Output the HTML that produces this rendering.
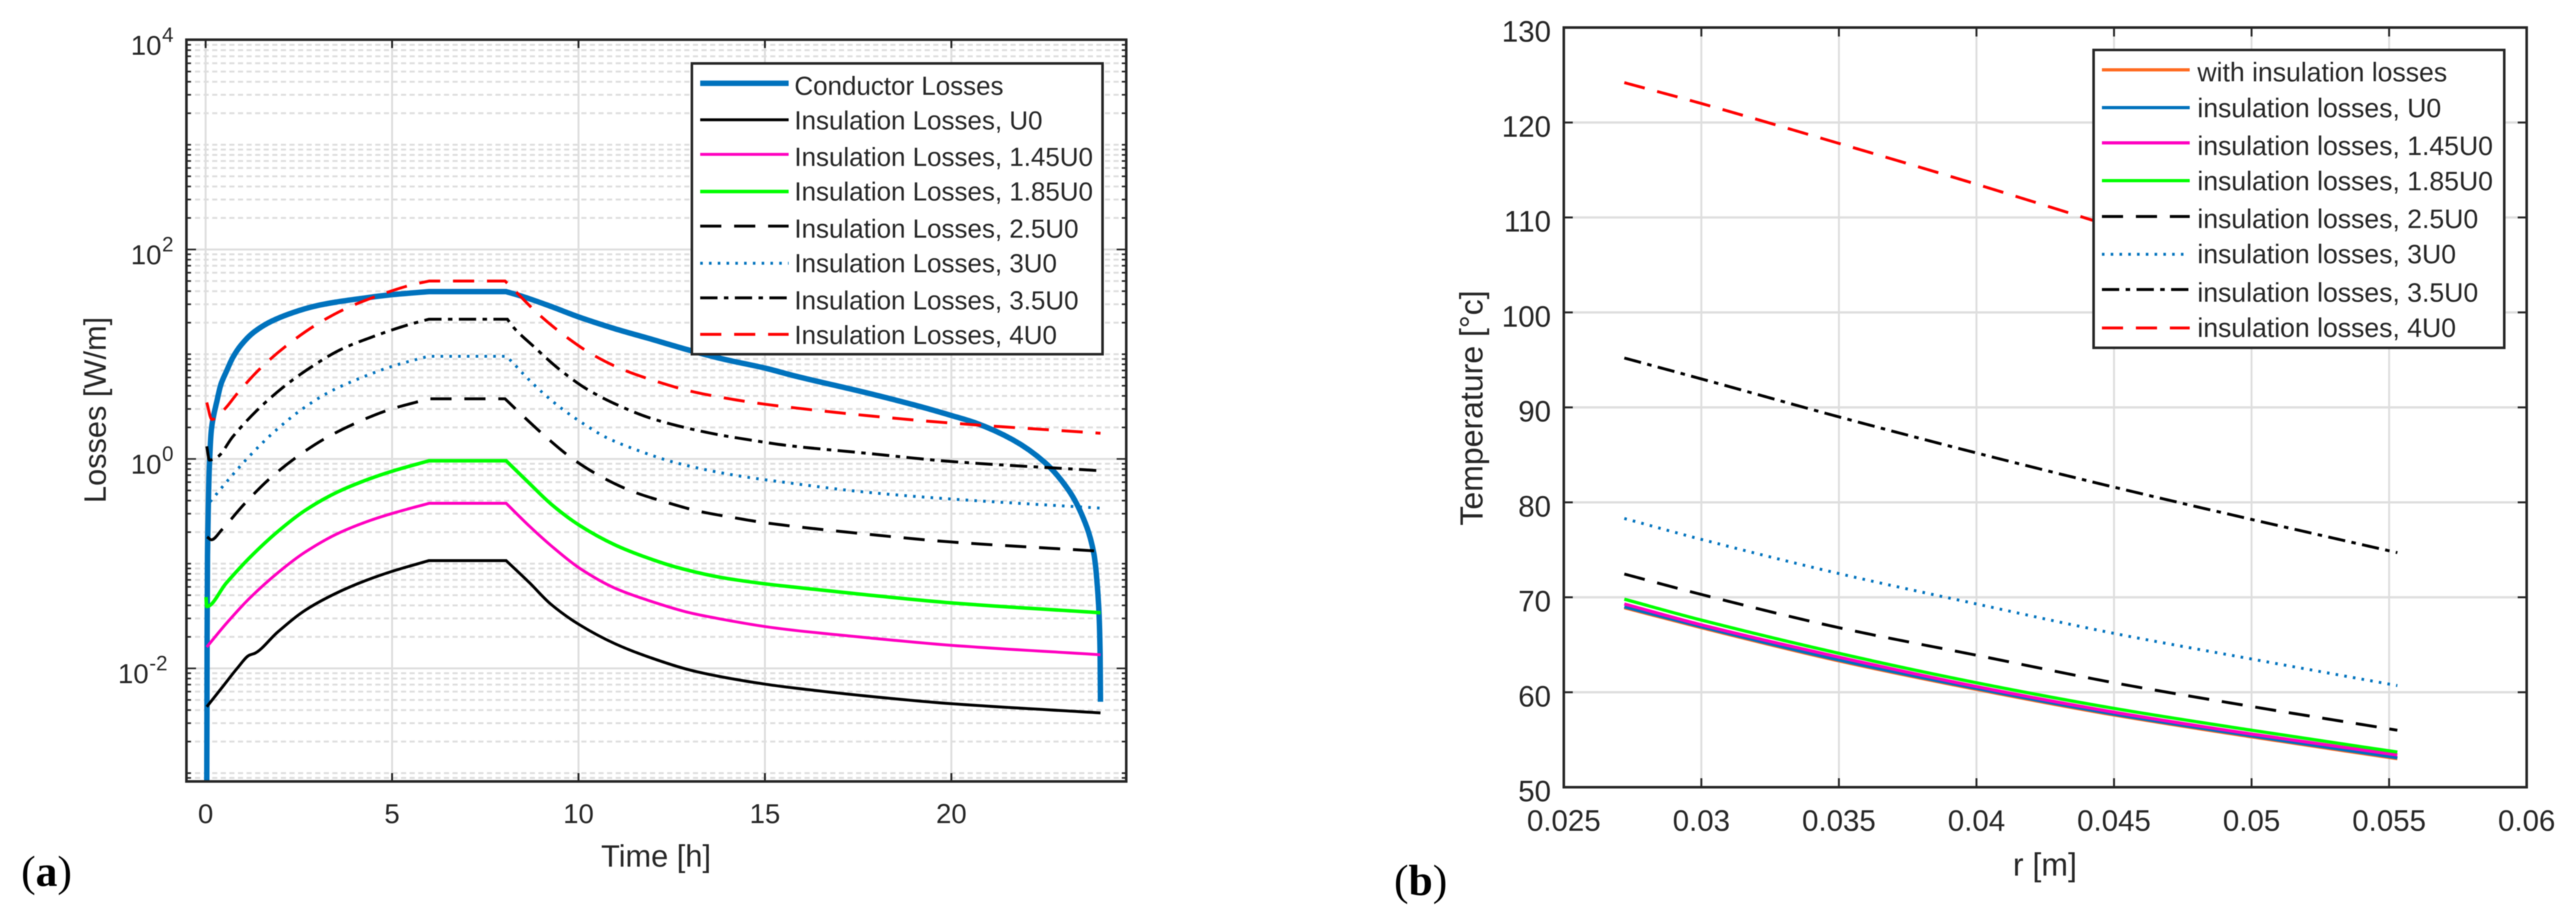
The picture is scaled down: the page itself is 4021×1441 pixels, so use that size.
<!DOCTYPE html>
<html lang="en">
<head>
<meta charset="utf-8">
<title>Losses and temperature charts</title>
<style>
html,body{margin:0;padding:0;background:#fff;width:4021px;height:1441px;overflow:hidden}
svg{display:block;filter:blur(.8px)}
text{font-family:"Liberation Sans",sans-serif;fill:#262626}
.panel-letter{font-family:"Liberation Serif",serif;font-size:68px;fill:#000}
</style>
</head>
<body>
<svg id="figure" xmlns="http://www.w3.org/2000/svg" width="4021" height="1441" viewBox="0 0 4021 1441">
  <defs>
    <clipPath id="clip-a"><rect x="291" y="62" width="1467" height="1158"/></clipPath>
    <clipPath id="clip-b"><rect x="2441" y="43" width="1503" height="1186"/></clipPath>
  </defs>
  <g id="chart-a"></g>
  <g id="chart-b"></g>
  <text class="panel-letter" x="33" y="1383">(<tspan font-weight="bold">a</tspan>)</text>
  <text class="panel-letter" x="2176" y="1397">(<tspan font-weight="bold">b</tspan>)</text>
  <text font-size="48" text-anchor="middle" transform="translate(165 640) rotate(-90)">Losses [W/m]</text>
  <text font-size="48" text-anchor="middle" x="1024" y="1353">Time [h]</text>
  <text font-size="50" text-anchor="middle" transform="translate(2314 637) rotate(-90)">Temperature [°c]</text>
  <text font-size="50" text-anchor="middle" x="3192" y="1367">r [m]</text>
</svg>
<script>
/* ---------- Panel (a) data ---------- */
const timeTicks = [0, 5, 10, 15, 20];
const lossTickExponents = [-2, 0, 2, 4];
const lossGridExponents = [-4, -3, -2, -1, 0, 1, 2, 3];

const conductorTime = [0.03,0.035,0.04,0.05,0.1,0.155,0.2,0.3,0.41,0.556,0.727,0.956,1.3,1.76,2.33,2.9,3.48,4.16,5.02,5.99,8.06,8.52,9.26,10.02,10.98,11.84,12.98,13.84,15.03,15.79,17.7,19,20,20.66,21.64,22.5,23.15,23.55,23.82,23.95,23.99,24];
const conductorLoss = [0.0008,0.0035,0.02,0.118,0.85,1.92,2.44,3.54,5.16,6.84,9.28,12.3,16.3,20.6,24.9,28.6,31.4,34,37.1,39.6,39.6,35.4,28.6,22.6,17.5,14.3,10.9,9.06,7.33,6.22,4.3,3.28,2.6,2.2,1.53,0.93,0.5,0.266,0.126,0.0403,0.0138,0.0048];

const u0Time = [0.03,0.44,0.87,1.16,1.33,1.93,2.67,3.48,4.28,5.02,5.99,8.06,8.69,9.26,10.02,10.98,11.84,12.98,13.84,15.03,15.79,17.7,20,24];
const u0Loss = [0.0043,0.00657,0.01026,0.0133,0.014,0.0222,0.0359,0.0518,0.0687,0.0849,0.107,0.107,0.0655,0.041,0.0262,0.0172,0.013,0.00966,0.0083,0.00705,0.0065,0.00546,0.0046,0.00376];

const u145Time = [0.03,0.556,1.19,1.99,2.67,3.53,4.39,5.02,5.99,8.06,8.69,9.26,10.02,10.98,11.84,12.98,13.84,15.03,15.79,17.7,20,24];
const u145Loss = [0.016,0.0269,0.0472,0.0849,0.129,0.193,0.257,0.303,0.377,0.377,0.227,0.149,0.091,0.0583,0.045,0.034,0.0295,0.025,0.0231,0.0197,0.0166,0.0135];

const u185Time = [0.01,0.03,0.556,1.19,1.93,2.67,3.53,4.39,5.02,5.99,8.06,8.63,9.26,10.02,10.98,11.84,12.7,13.84,15.03,15.79,17.7,20,24];
const u185Loss = [0.048,0.039,0.0655,0.115,0.202,0.323,0.482,0.645,0.767,0.96,0.96,0.61,0.372,0.233,0.151,0.114,0.091,0.0737,0.064,0.0597,0.0505,0.0422,0.034];

const u25Time = [0.04,0.155,0.43,1.04,1.7,2.42,3.22,4.05,4.91,5.99,8.03,8.43,9.12,9.83,10.61,11.47,12.35,13.24,14.16,15.07,17.7,20,24];
const u25Loss = [0.18,0.169,0.21,0.372,0.64,1.03,1.58,2.22,2.94,3.75,3.75,2.74,1.63,1.01,0.676,0.486,0.386,0.316,0.275,0.244,0.192,0.161,0.1315];

const u3Time = [0.12,0.67,1.16,1.82,2.56,3.33,4.16,5.05,5.97,8.06,8.22,8.54,9.04,9.58,10.15,10.75,11.61,12.5,13.41,14.33,15.48,17.7,20,24];
const u3Loss = [0.39,0.67,1.05,1.79,2.94,4.38,5.94,7.76,9.55,9.55,8.44,6.37,4.28,2.97,2.15,1.6,1.2,0.943,0.789,0.686,0.601,0.482,0.414,0.339];

const u35Time = [0.03,0.1,0.326,0.727,1.36,2.07,2.82,3.65,4.51,5.37,5.99,8.09,8.29,8.77,9.49,10.23,11.06,11.92,12.84,13.73,14.64,15.56,17.7,20,23.9];
const u35Loss = [1.32,0.975,1.05,1.63,2.87,4.81,7.5,11.2,14.8,18.8,21.6,21.6,17.5,12.1,7.16,4.63,3.26,2.46,2,1.71,1.51,1.35,1.135,0.945,0.776];

const u4Time = [0.03,0.167,0.5,0.84,1.47,2.16,2.93,3.76,4.62,5.51,6,8.03,8.2,8.86,9.58,10.35,11.18,12.07,12.96,13.87,14.79,15.68,17.7,20,24];
const u4Loss = [3.46,2.38,2.97,4.18,7.34,12,18.8,27.3,36.2,45.8,50,50,43.7,25.4,15.5,10.05,7.16,5.53,4.48,3.85,3.41,3.11,2.6,2.2,1.76];

const legendLabelsA = ["Conductor Losses","Insulation Losses, U0","Insulation Losses, 1.45U0","Insulation Losses, 1.85U0","Insulation Losses, 2.5U0","Insulation Losses, 3U0","Insulation Losses, 3.5U0","Insulation Losses, 4U0"];

/* ---------- Panel (b) data ---------- */
const radiusTicks = [0.025,0.03,0.035,0.04,0.045,0.05,0.055,0.06];
const radiusTickLabels = ["0.025","0.03","0.035","0.04","0.045","0.05","0.055","0.06"];
const tempTicks = [50,60,70,80,90,100,110,120,130];

const radius = [0.0272,0.03,0.035,0.04,0.045,0.05,0.0553];
const tempWith = [68.9,66.8,63.3,60.3,57.6,55.3,53];
const tempU0 = [69,66.9,63.4,60.4,57.7,55.4,53.1];
const tempU145 = [69.3,67.1,63.7,60.6,57.9,55.6,53.4];
const tempU185 = [69.8,67.6,64.1,61,58.3,56,53.7];
const tempU25 = [72.45,70.3,66.8,63.9,61,58.5,56];
const tempU3 = [78.3,76.1,72.5,69.3,66.2,63.5,60.7];
const tempU35 = [95.2,93,89,85.2,81.6,78.2,74.7];
const tempU4 = [124.2,122,117.8,113.5,109,104.5,100];

const legendLabelsB = ["with insulation losses","insulation losses, U0","insulation losses, 1.45U0","insulation losses, 1.85U0","insulation losses, 2.5U0","insulation losses, 3U0","insulation losses, 3.5U0","insulation losses, 4U0"];

/* ---------- Helpers ---------- */
const NS = "http://www.w3.org/2000/svg";
function make(tag, attrs, parent, name) {
  const el = document.createElementNS(NS, tag);
  for (const k in attrs) el.setAttribute(k, attrs[k]);
  
  
  parent.appendChild(el);
  return el;
}
function curve(xs, ys) {
  const n = xs.length, dx = [], s = [], m = [];
  for (let i = 0; i < n - 1; i++) { dx[i] = xs[i+1] - xs[i]; s[i] = (ys[i+1] - ys[i]) / dx[i]; }
  m[0] = s[0]; m[n-1] = s[n-2];
  for (let i = 1; i < n - 1; i++) m[i] = s[i-1] * s[i] <= 0 ? 0 : 2 * s[i-1] * s[i] / (s[i-1] + s[i]);
  let d = "M" + xs[0].toFixed(2) + " " + ys[0].toFixed(2);
  for (let i = 0; i < n - 1; i++) {
    if (s[i] === 0) { d += "L" + xs[i+1].toFixed(2) + " " + ys[i+1].toFixed(2); continue; }
    const m0 = (i > 0 && s[i-1] === 0) ? s[i] : m[i];
    const m1 = (i < n - 2 && s[i+1] === 0) ? s[i] : m[i+1];
    const h = dx[i] / 3;
    d += "C" + (xs[i]+h).toFixed(2) + " " + (ys[i]+m0*h).toFixed(2) + " " + (xs[i+1]-h).toFixed(2) + " " + (ys[i+1]-m1*h).toFixed(2) + " " + xs[i+1].toFixed(2) + " " + ys[i+1].toFixed(2);
  }
  return d;
}
const GRID = "#dedede", AXIS = "#262626";
const DASH = "33 20", DOT = "4 9.7", DASHDOT = "27 10 7 10";

function drawLegend(parent, box, sampleX0, sampleX1, textX, lineYs, baseYs, labels, styles, fontSize, prefix) {
  make('rect', {x: box[0], y: box[1], width: box[2], height: box[3], fill: '#fff', stroke: AXIS, 'stroke-width': 4}, parent, prefix + '-legend-box');
  labels.forEach((label, i) => {
    const st = styles[i];
    const sample = make('line', {x1: sampleX0, x2: sampleX1, y1: lineYs[i], y2: lineYs[i], stroke: st.color, 'stroke-width': st.width}, parent, prefix + '-legend-sample-' + i);
    if (st.dash) sample.setAttribute('stroke-dasharray', st.dash);
    const t = make('text', {x: textX, y: baseYs[i], 'font-size': fontSize}, parent, prefix + '-legend-label-' + i);
    t.textContent = label;
  });
}

/* ---------- Panel (a) ---------- */
(function () {
  const root = document.getElementById('chart-a');
  const L = 291, R = 1758, T = 62, B = 1220;
  const xA = t => 321 + 58.2 * t;
  const yA = v => 716.5 - 163.5 * Math.log10(v);
  const grid = make('g', {}, root, 'losses-grid');
  lossGridExponents.forEach(k => {
    for (let m = 1; m <= 9; m++) {
      const y = yA(m * Math.pow(10, k));
      if (y < T || y > B) continue;
      const major = m === 1 && k % 2 === 0;
      const g = make('line', {x1: L, x2: R, y1: y, y2: y, stroke: GRID, 'stroke-width': 3}, grid, major ? 'major-grid-line' : 'minor-grid-line');
      if (!major) g.setAttribute('stroke-dasharray', '8 5.4');
      const len = major ? 15 : 7;
      make('line', {x1: L, x2: L + len, y1: y, y2: y, stroke: AXIS, 'stroke-width': 2.5}, grid, 'y-tick-left');
      make('line', {x1: R - len, x2: R, y1: y, y2: y, stroke: AXIS, 'stroke-width': 2.5}, grid, 'y-tick-right');
    }
  });
  make('line', {x1: L, x2: R, y1: yA(1e4), y2: yA(1e4), stroke: GRID, 'stroke-width': 3}, grid, 'major-grid-line');
  timeTicks.forEach(t => {
    const x = xA(t);
    make('line', {x1: x, x2: x, y1: T, y2: B, stroke: GRID, 'stroke-width': 3}, grid, 'vertical-grid-line');
    make('line', {x1: x, x2: x, y1: B - 13, y2: B, stroke: AXIS, 'stroke-width': 3}, grid, 'x-tick-bottom');
    make('line', {x1: x, x2: x, y1: T, y2: T + 13, stroke: AXIS, 'stroke-width': 3}, grid, 'x-tick-top');
    const label = make('text', {x: x, y: 1285, 'font-size': 43, 'text-anchor': 'middle'}, root, 'x-tick-label');
    label.textContent = String(t);
  });
  lossTickExponents.forEach(e => {
    const y = yA(Math.pow(10, e));
    const right = e < 0 ? 232 : 252;
    const base = make('text', {x: right, y: y + 23, 'font-size': 43, 'text-anchor': 'end'}, root, 'y-tick-label-base');
    base.textContent = '10';
    const sup = make('text', {x: right + 1, y: y + 3, 'font-size': 32}, root, 'y-tick-label-exponent');
    sup.textContent = String(e);
  });

  const series = [
    {name: 'conductor-losses-line', x: conductorTime, y: conductorLoss, color: '#0072bd', width: 8.5},
    {name: 'u0-line', x: u0Time, y: u0Loss, color: '#000', width: 4.5},
    {name: 'u145-line', x: u145Time, y: u145Loss, color: '#ff00c0', width: 4.5},
    {name: 'u185-line', x: u185Time, y: u185Loss, color: '#00ff00', width: 5.5},
    {name: 'u25-line', x: u25Time, y: u25Loss, color: '#000', width: 4.5, dash: DASH},
    {name: 'u3-line', x: u3Time, y: u3Loss, color: '#0072bd', width: 4.5, dash: DOT},
    {name: 'u35-line', x: u35Time, y: u35Loss, color: '#000', width: 4.5, dash: DASHDOT},
    {name: 'u4-line', x: u4Time, y: u4Loss, color: '#ff0000', width: 4.5, dash: DASH}
  ];
  const plot = make('g', {'clip-path': 'url(#clip-a)'}, root, 'losses-series');
  series.forEach(s => {
    const p = make('path', {d: curve(s.x.map(xA), s.y.map(yA)), fill: 'none', stroke: s.color, 'stroke-width': s.width}, plot, s.name);
    if (s.dash) p.setAttribute('stroke-dasharray', s.dash);
  });
  make('rect', {x: L, y: T, width: R - L, height: B - T, fill: 'none', stroke: AXIS, 'stroke-width': 4}, root, 'losses-axes-frame');
  drawLegend(root, [1080, 99, 641, 454], 1093, 1231, 1240,
    [130,187,241,299,353,411,465,522], [148,202,259,313,371,425,483,537],
    legendLabelsA, series, 40.5, 'losses');
})();

/* ---------- Panel (b) ---------- */
(function () {
  const root = document.getElementById('chart-b');
  const L = 2441, R = 3944, T = 43, B = 1229;
  const xB = r => L + (r - 0.025) / 0.035 * (R - L);
  const yB = v => B - (v - 50) / 80 * (B - T);
  const grid = make('g', {}, root, 'temperature-grid');
  tempTicks.forEach(v => {
    const y = yB(v);
    make('line', {x1: L, x2: R, y1: y, y2: y, stroke: GRID, 'stroke-width': 3.5}, grid, 'horizontal-grid-line');
    make('line', {x1: L, x2: L + 14, y1: y, y2: y, stroke: AXIS, 'stroke-width': 3}, grid, 'y-tick-left');
    make('line', {x1: R - 14, x2: R, y1: y, y2: y, stroke: AXIS, 'stroke-width': 3}, grid, 'y-tick-right');
    const label = make('text', {x: 2421, y: y + 22, 'font-size': 46, 'text-anchor': 'end'}, root, 'y-tick-label');
    label.textContent = String(v);
  });
  radiusTicks.forEach((r, i) => {
    const x = xB(r);
    make('line', {x1: x, x2: x, y1: T, y2: B, stroke: GRID, 'stroke-width': 3}, grid, 'vertical-grid-line');
    make('line', {x1: x, x2: x, y1: B - 14, y2: B, stroke: AXIS, 'stroke-width': 3}, grid, 'x-tick-bottom');
    make('line', {x1: x, x2: x, y1: T, y2: T + 14, stroke: AXIS, 'stroke-width': 3}, grid, 'x-tick-top');
    const label = make('text', {x: x, y: 1297, 'font-size': 46, 'text-anchor': 'middle'}, root, 'x-tick-label');
    label.textContent = radiusTickLabels[i];
  });
  const series = [
    {name: 'with-insulation-line', y: tempWith, color: '#ff6a20', width: 5},
    {name: 'u0-temperature-line', y: tempU0, color: '#0072bd', width: 5},
    {name: 'u145-temperature-line', y: tempU145, color: '#ff00c0', width: 5},
    {name: 'u185-temperature-line', y: tempU185, color: '#00ff00', width: 5},
    {name: 'u25-temperature-line', y: tempU25, color: '#000', width: 4.5, dash: DASH},
    {name: 'u3-temperature-line', y: tempU3, color: '#0072bd', width: 4.5, dash: DOT},
    {name: 'u35-temperature-line', y: tempU35, color: '#000', width: 4.5, dash: DASHDOT},
    {name: 'u4-temperature-line', y: tempU4, color: '#ff0000', width: 4.5, dash: DASH}
  ];
  const plot = make('g', {'clip-path': 'url(#clip-b)'}, root, 'temperature-series');
  series.forEach(s => {
    const p = make('path', {d: curve(radius.map(xB), s.y.map(yB)), fill: 'none', stroke: s.color, 'stroke-width': s.width}, plot, s.name);
    if (s.dash) p.setAttribute('stroke-dasharray', s.dash);
  });
  make('rect', {x: L, y: T, width: R - L, height: B - T, fill: 'none', stroke: AXIS, 'stroke-width': 4}, root, 'temperature-axes-frame');
  drawLegend(root, [3268, 78, 641, 465], 3281, 3418, 3430,
    [109,168,223,282,338,397,452,512], [127,183,242,297,356,411,471,526],
    legendLabelsB, series, 41.5, 'temperature');
})();
</script>
</body>
</html>
